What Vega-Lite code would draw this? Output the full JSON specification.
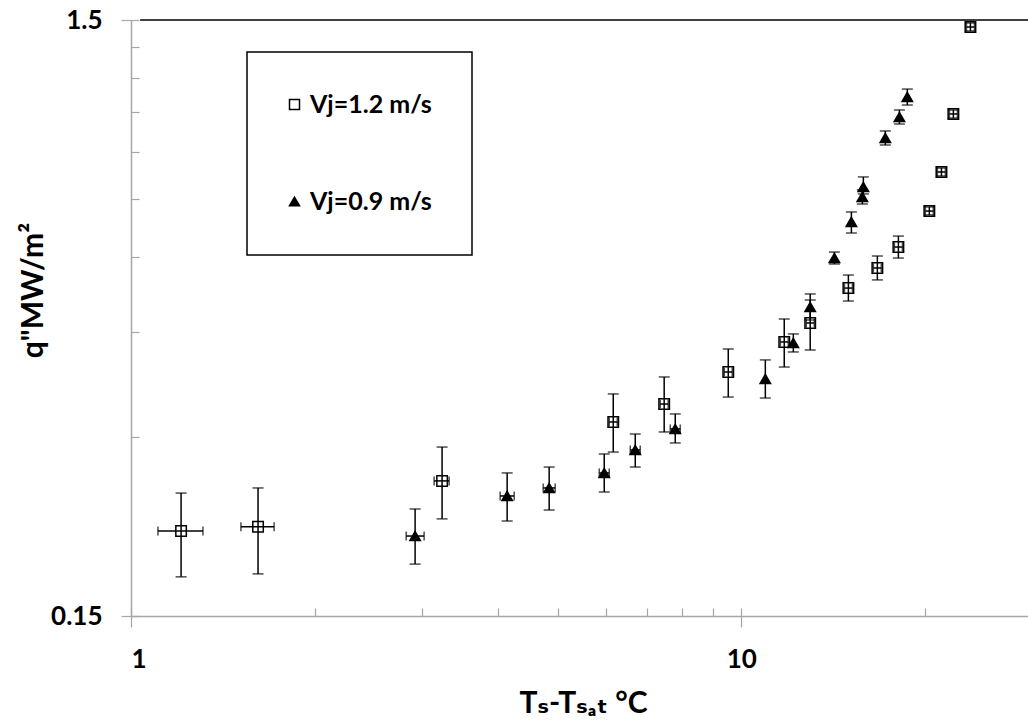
{
  "$schema": "https://vega.github.io/schema/vega-lite/v6.json",
  "width": 897,
  "height": 596,
  "autosize": {"type": "none"},
  "padding": {"left": 131, "top": 20, "right": 0, "bottom": 107},
  "background": "white",
  "config": {
    "view": {"stroke": null},
    "font": "Lato",
    "axis": {
      "grid": false,
      "domainColor": "#a6a6a6",
      "domainWidth": 1.5,
      "tickColor": "#a6a6a6",
      "tickWidth": 1.2,
      "labelFont": "Lato",
      "labelFontWeight": "bold",
      "labelFontSize": 26,
      "labelColor": "black",
      "titleFont": "Lato, DejaVu Sans",
      "titleFontWeight": "bold",
      "titleFontSize": 30,
      "titleColor": "black"
    },
    "legend": {
      "orient": "none",
      "legendX": 116,
      "legendY": 32,
      "strokeColor": "black",
      "strokeWidth": 1.5,
      "padding": 40,
      "rowPadding": 71,
      "labelOffset": 3,
      "symbolOffset": -5,
      "symbolSize": 100,
      "symbolStrokeColor": "black",
      "symbolStrokeWidth": 1.5,
      "labelFont": "Lato",
      "labelFontWeight": "bold",
      "labelFontSize": 25,
      "labelColor": "black"
    }
  },
  "data": {
    "values": [
      {"series": "Vj=1.2 m/s", "x": 1.208, "y": 0.2083, "xlo": 1.107, "xhi": 1.312, "ylo": 0.1745, "yhi": 0.2412},
      {"series": "Vj=1.2 m/s", "x": 1.615, "y": 0.2117, "xlo": 1.514, "xhi": 1.716, "ylo": 0.1765, "yhi": 0.246},
      {"series": "Vj=1.2 m/s", "x": 3.234, "y": 0.2528, "xlo": 3.138, "xhi": 3.321, "ylo": 0.2183, "yhi": 0.2881},
      {"series": "Vj=1.2 m/s", "x": 6.169, "y": 0.3174, "xlo": 6.077, "xhi": 6.263, "ylo": 0.2826, "yhi": 0.3537},
      {"series": "Vj=1.2 m/s", "x": 7.476, "y": 0.3402, "xlo": 7.365, "xhi": 7.59, "ylo": 0.3054, "yhi": 0.3777},
      {"series": "Vj=1.2 m/s", "x": 9.521, "y": 0.385, "xlo": 9.38, "xhi": 9.666, "ylo": 0.3495, "yhi": 0.4208},
      {"series": "Vj=1.2 m/s", "x": 11.76, "y": 0.4324, "xlo": 11.59, "xhi": 11.94, "ylo": 0.3925, "yhi": 0.4725},
      {"series": "Vj=1.2 m/s", "x": 12.97, "y": 0.4653, "xlo": 12.78, "xhi": 13.17, "ylo": 0.4192, "yhi": 0.5085},
      {"series": "Vj=1.2 m/s", "x": 14.98, "y": 0.5325, "xlo": 14.76, "xhi": 15.21, "ylo": 0.5065, "yhi": 0.56},
      {"series": "Vj=1.2 m/s", "x": 16.71, "y": 0.5755, "xlo": 16.46, "xhi": 16.96, "ylo": 0.5495, "yhi": 0.6027},
      {"series": "Vj=1.2 m/s", "x": 18.09, "y": 0.624, "xlo": 17.82, "xhi": 18.37, "ylo": 0.598, "yhi": 0.651},
      {"series": "Vj=1.2 m/s", "x": 20.33, "y": 0.717, "xlo": 20.03, "xhi": 20.64, "ylo": 0.7063, "yhi": 0.7285},
      {"series": "Vj=1.2 m/s", "x": 21.28, "y": 0.8339, "xlo": 20.96, "xhi": 21.6, "ylo": 0.821, "yhi": 0.8468},
      {"series": "Vj=1.2 m/s", "x": 22.26, "y": 1.0434, "xlo": 21.93, "xhi": 22.6, "ylo": 1.027, "yhi": 1.0595},
      {"series": "Vj=1.2 m/s", "x": 23.74, "y": 1.46, "xlo": 23.39, "xhi": 24.1, "ylo": 1.4376, "yhi": 1.483},
      {"series": "Vj=0.9 m/s", "x": 2.921, "y": 0.2043, "xlo": 2.824, "xhi": 3.022, "ylo": 0.1833, "yhi": 0.2268},
      {"series": "Vj=0.9 m/s", "x": 4.134, "y": 0.2385, "xlo": 4.026, "xhi": 4.245, "ylo": 0.2165, "yhi": 0.2607},
      {"series": "Vj=0.9 m/s", "x": 4.844, "y": 0.246, "xlo": 4.736, "xhi": 4.955, "ylo": 0.2259, "yhi": 0.2667},
      {"series": "Vj=0.9 m/s", "x": 5.963, "y": 0.2607, "xlo": 5.852, "xhi": 6.076, "ylo": 0.2422, "yhi": 0.2805},
      {"series": "Vj=0.9 m/s", "x": 6.703, "y": 0.2849, "xlo": 6.578, "xhi": 6.83, "ylo": 0.2667, "yhi": 0.303},
      {"series": "Vj=0.9 m/s", "x": 7.795, "y": 0.309, "xlo": 7.65, "xhi": 7.943, "ylo": 0.2927, "yhi": 0.3274},
      {"series": "Vj=0.9 m/s", "x": 10.95, "y": 0.3747, "xlo": null, "xhi": null, "ylo": 0.3482, "yhi": 0.4034},
      {"series": "Vj=0.9 m/s", "x": 12.17, "y": 0.4307, "xlo": null, "xhi": null, "ylo": 0.416, "yhi": 0.446},
      {"series": "Vj=0.9 m/s", "x": 12.97, "y": 0.495, "xlo": null, "xhi": null, "ylo": 0.4707, "yhi": 0.5205},
      {"series": "Vj=0.9 m/s", "x": 14.21, "y": 0.598, "xlo": null, "xhi": null, "ylo": 0.5844, "yhi": 0.612},
      {"series": "Vj=0.9 m/s", "x": 15.15, "y": 0.6873, "xlo": null, "xhi": null, "ylo": 0.6587, "yhi": 0.7145},
      {"series": "Vj=0.9 m/s", "x": 15.79, "y": 0.757, "xlo": null, "xhi": null, "ylo": 0.7368, "yhi": 0.778},
      {"series": "Vj=0.9 m/s", "x": 15.85, "y": 0.787, "xlo": null, "xhi": null, "ylo": 0.766, "yhi": 0.818},
      {"series": "Vj=0.9 m/s", "x": 17.22, "y": 0.951, "xlo": null, "xhi": null, "ylo": 0.9255, "yhi": 0.977},
      {"series": "Vj=0.9 m/s", "x": 18.16, "y": 1.031, "xlo": null, "xhi": null, "ylo": 1.0037, "yhi": 1.0595},
      {"series": "Vj=0.9 m/s", "x": 18.71, "y": 1.114, "xlo": null, "xhi": null, "ylo": 1.08, "yhi": 1.1487}
    ]
  },
  "resolve": {"axis": {"x": "independent", "y": "independent"}},
  "layer": [
    {
      "description": "Top frame line plus the inward minor ticks",
      "data": {"values": [{}]},
      "mark": {"type": "rule", "color": "black", "strokeWidth": 1.5},
      "encoding": {
        "y": {
          "datum": 1.5,
          "type": "quantitative",
          "scale": {"type": "log", "domain": [0.15, 1.5], "nice": false},
          "axis": {
            "orient": "left",
            "values": [0.15, 0.3, 0.45, 0.6, 0.75, 0.9, 1.05, 1.2, 1.35, 1.5],
            "tickSize": -8,
            "labels": false,
            "domain": false,
            "title": null
          }
        },
        "x": {
          "datum": 1.035,
          "type": "quantitative",
          "scale": {"type": "log", "domain": [1, 29.5], "nice": false},
          "axis": {
            "orient": "bottom",
            "values": [1, 2, 3, 4, 5, 6, 7, 8, 9, 10, 20],
            "tickSize": -8,
            "labels": false,
            "domain": false,
            "title": null
          }
        },
        "x2": {"datum": 29.5}
      }
    },
    {
      "description": "Measured points",
      "mark": {"type": "point", "strokeWidth": 1.5, "size": 110, "opacity": 1},
      "encoding": {
        "x": {
          "field": "x",
          "type": "quantitative",
          "scale": {"type": "log", "domain": [1, 29.5], "nice": false},
          "axis": {
            "orient": "bottom",
            "values": [1, 10],
            "format": "d",
            "tickSize": 11,
            "labelPadding": 19,
            "title": "Tₛ-Tₛₐₜ °C",
            "titleX": 452,
            "titleY": 96,
            "titleBaseline": "alphabetic",
            "titleAnchor": "start",
            "titleAlign": "center"
          }
        },
        "y": {
          "field": "y",
          "type": "quantitative",
          "scale": {"type": "log", "domain": [0.15, 1.5], "nice": false},
          "axis": {
            "orient": "left",
            "values": [0.15, 1.5],
            "labelExpr": "datum.value == 0.15 ? '0.15' : '1.5'",
            "tickSize": 10,
            "labelPadding": 19,
            "title": "q\"MW/m²",
            "titleX": -89,
            "titleY": 270,
            "titleAngle": -90,
            "titleBaseline": "alphabetic",
            "titleAlign": "center",
            "titleAnchor": "start"
          }
        },
        "shape": {
          "field": "series",
          "type": "nominal",
          "scale": {"domain": ["Vj=1.2 m/s", "Vj=0.9 m/s"], "range": ["square", "triangle-up"]},
          "legend": {"title": null}
        },
        "fill": {
          "field": "series",
          "type": "nominal",
          "scale": {"domain": ["Vj=1.2 m/s", "Vj=0.9 m/s"], "range": ["white", "black"]},
          "legend": {"title": null}
        },
        "stroke": {
          "field": "series",
          "type": "nominal",
          "scale": {"domain": ["Vj=1.2 m/s", "Vj=0.9 m/s"], "range": ["black", "black"]},
          "legend": {"title": null}
        }
      }
    },
    {
      "description": "Vertical error bars, drawn over the open squares",
      "mark": {"type": "errorbar", "ticks": {"size": 11}, "thickness": 1.5, "color": "black"},
      "encoding": {
        "x": {"field": "x", "type": "quantitative", "scale": {"type": "log", "domain": [1, 29.5], "nice": false}, "axis": null},
        "y": {"field": "ylo", "type": "quantitative", "scale": {"type": "log", "domain": [0.15, 1.5], "nice": false}, "axis": null},
        "y2": {"field": "yhi"}
      }
    },
    {
      "description": "Horizontal error bars",
      "transform": [{"filter": "datum.xlo != null"}],
      "mark": {"type": "errorbar", "ticks": {"size": 9}, "thickness": 1.5, "color": "black"},
      "encoding": {
        "y": {"field": "y", "type": "quantitative", "scale": {"type": "log", "domain": [0.15, 1.5], "nice": false}, "axis": null},
        "x": {"field": "xlo", "type": "quantitative", "scale": {"type": "log", "domain": [1, 29.5], "nice": false}, "axis": null},
        "x2": {"field": "xhi"}
      }
    }
  ]
}
